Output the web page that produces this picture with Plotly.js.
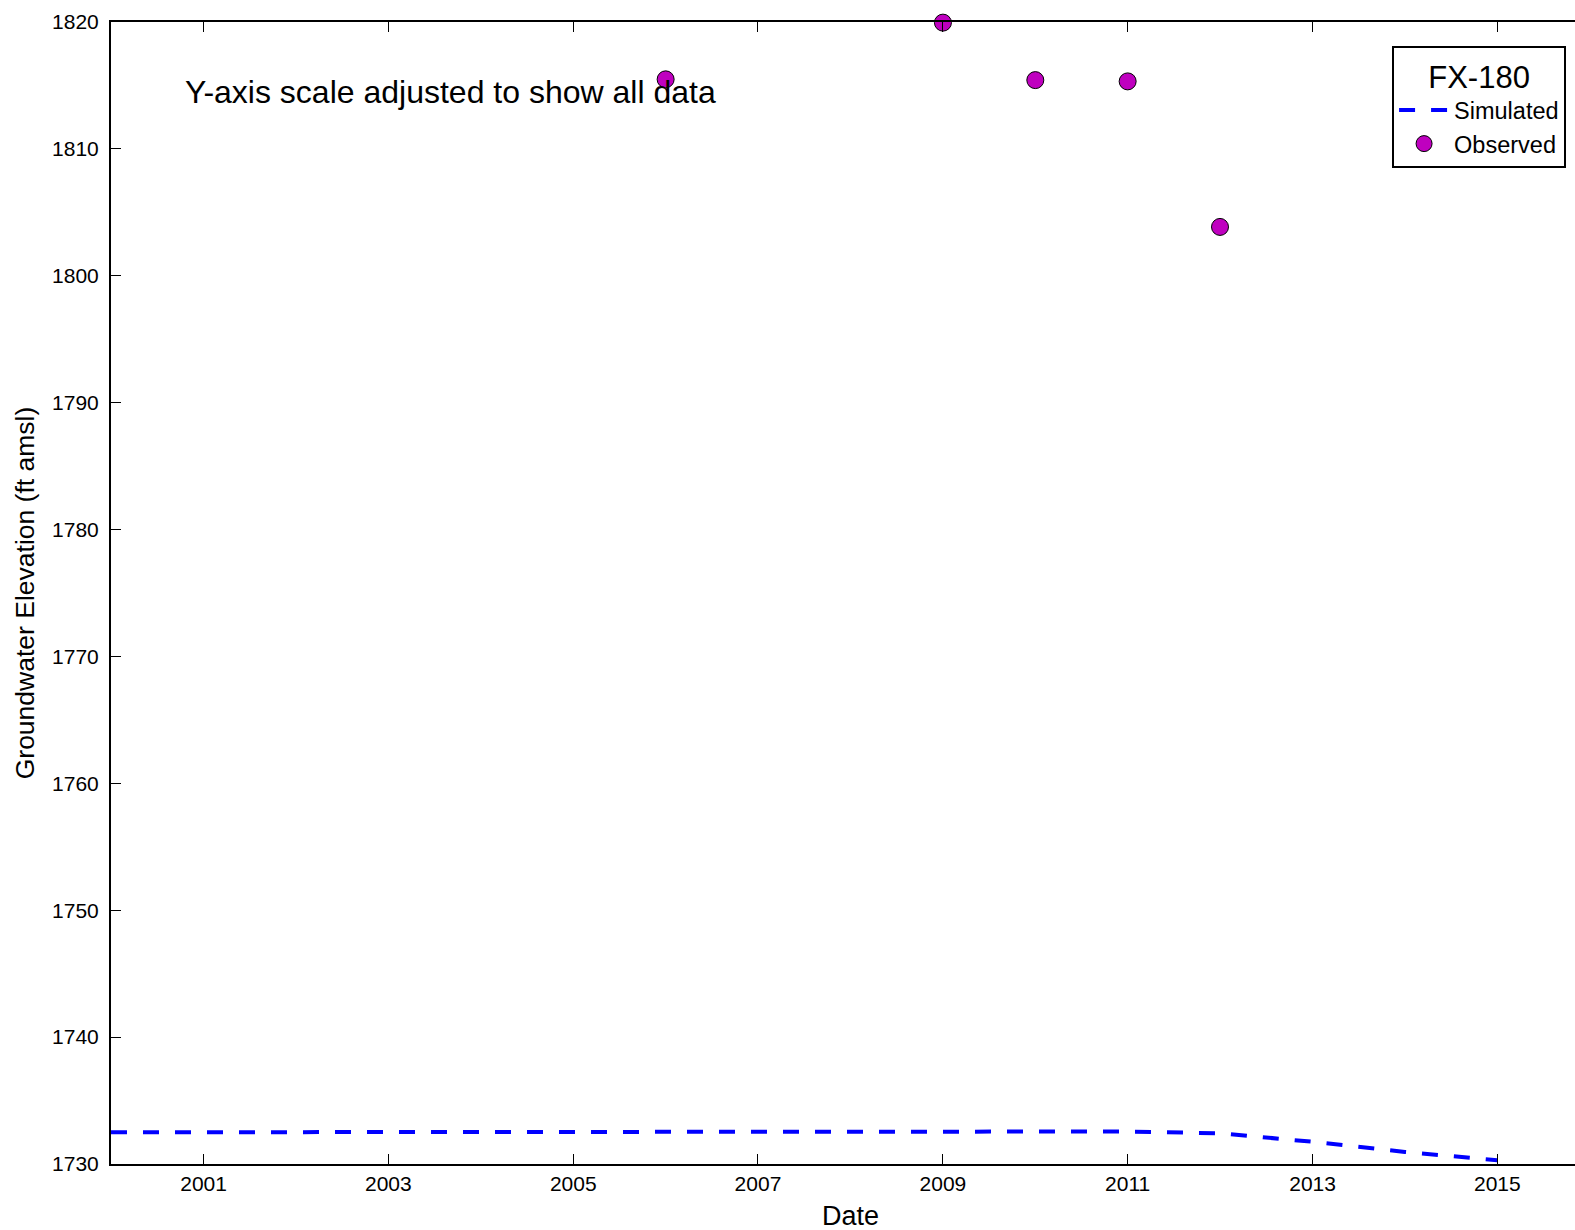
<!DOCTYPE html>
<html>
<head>
<meta charset="utf-8">
<script src="https://cdn.plot.ly/plotly-3.0.1.min.js"></script>
<style>html,body{margin:0;padding:0;background:#fff;}#chart{width:1575px;height:1230px;}</style>
</head>
<body>
<div id="chart"></div>
<script>
// Simulated series (annual)
const simDates = ['2000-01-01','2001-01-01','2002-01-01','2003-01-01','2004-01-01','2005-01-01','2006-01-01','2007-01-01','2008-01-01','2009-01-01','2010-01-01','2011-01-01','2012-01-01','2013-01-01','2014-01-01','2015-01-01'];
const simValues = [1732.50,1732.50,1732.52,1732.53,1732.55,1732.56,1732.57,1732.56,1732.55,1732.55,1732.56,1732.56,1732.42,1731.75,1730.95,1730.30];
// Observed series
const obsDates = ['2006-01-01','2009-01-01','2010-01-01','2011-01-01','2012-01-01'];
const obsValues = [1815.48,1819.95,1815.42,1815.32,1803.85];
// Ticks
const xTickYears = ['2001','2003','2005','2007','2009','2011','2013','2015'];
const yTickValues = [1730,1740,1750,1760,1770,1780,1790,1800,1810,1820];
const wellName = 'FX-180';
const noteText = 'Y-axis scale adjusted to show all data';
const xTitle = 'Date';
const yTitle = 'Groundwater Elevation (ft amsl)';

const FONT = 'Liberation Sans, Arial, Helvetica, sans-serif';

const traces = [
  {
    x: simDates, y: simValues, type: 'scatter', mode: 'lines', name: 'Simulated',
    line: {color: '#0000ff', width: 4, dash: '16px,16px'},
    cliponaxis: true
  },
  {
    x: obsDates, y: obsValues, type: 'scatter', mode: 'markers', name: 'Observed',
    marker: {color: '#bf00bf', size: 17, line: {color: '#000', width: 1}},
    cliponaxis: false
  }
];

const layout = {
  width: 1575, height: 1230,
  margin: {l: 111, r: 0, t: 22, b: 66, pad: 0},
  paper_bgcolor: '#fff', plot_bgcolor: '#fff',
  font: {family: FONT, color: '#000', size: 21},
  showlegend: true,
  xaxis: {
    type: 'date',
    range: ['2000-01-01', '2015-11-04'],
    tickvals: xTickYears.map(y => y + '-01-01'),
    ticktext: xTickYears,
    ticks: 'inside', ticklen: 10, tickwidth: 1, tickcolor: '#000',
    showline: true, linewidth: 2, linecolor: '#000', mirror: 'ticks',
    showgrid: false, zeroline: false,
    tickfont: {size: 21, family: FONT}
  },
  yaxis: {
    range: [1730, 1820],
    tickvals: yTickValues,
    ticks: 'inside', ticklen: 10, tickwidth: 1, tickcolor: '#000',
    showline: true, linewidth: 2, linecolor: '#000', mirror: false,
    showgrid: false, zeroline: false,
    ticklabelstandoff: 6,
    tickfont: {size: 21, family: FONT},
    title: {text: yTitle, font: {size: 26.5, family: FONT}, standoff: 10}
  },
  legend: {
    x: 0.9939, xanchor: 'right', y: 0.979, yanchor: 'top',
    bgcolor: '#fff', bordercolor: '#000', borderwidth: 2,
    font: {size: 23.5, family: FONT},
    title: {text: wellName, side: 'top center', font: {size: 31, family: FONT}},
    itemwidth: 50, tracegroupgap: 0
  },
  annotations: [
    {
      xref: 'paper', yref: 'paper', x: 0.0495, y: 0.939,
      xanchor: 'left', yanchor: 'middle', showarrow: false,
      text: noteText, font: {size: 32, family: FONT}
    },
    {
      xref: 'paper', yref: 'paper', x: 0.505, y: -0.0455,
      xanchor: 'center', yanchor: 'middle', showarrow: false, borderpad: 0,
      text: xTitle, font: {size: 27, family: FONT}
    }
  ]
};

Plotly.newPlot('chart', traces, layout, {displayModeBar: false, staticPlot: true});
</script>
</body>
</html>
